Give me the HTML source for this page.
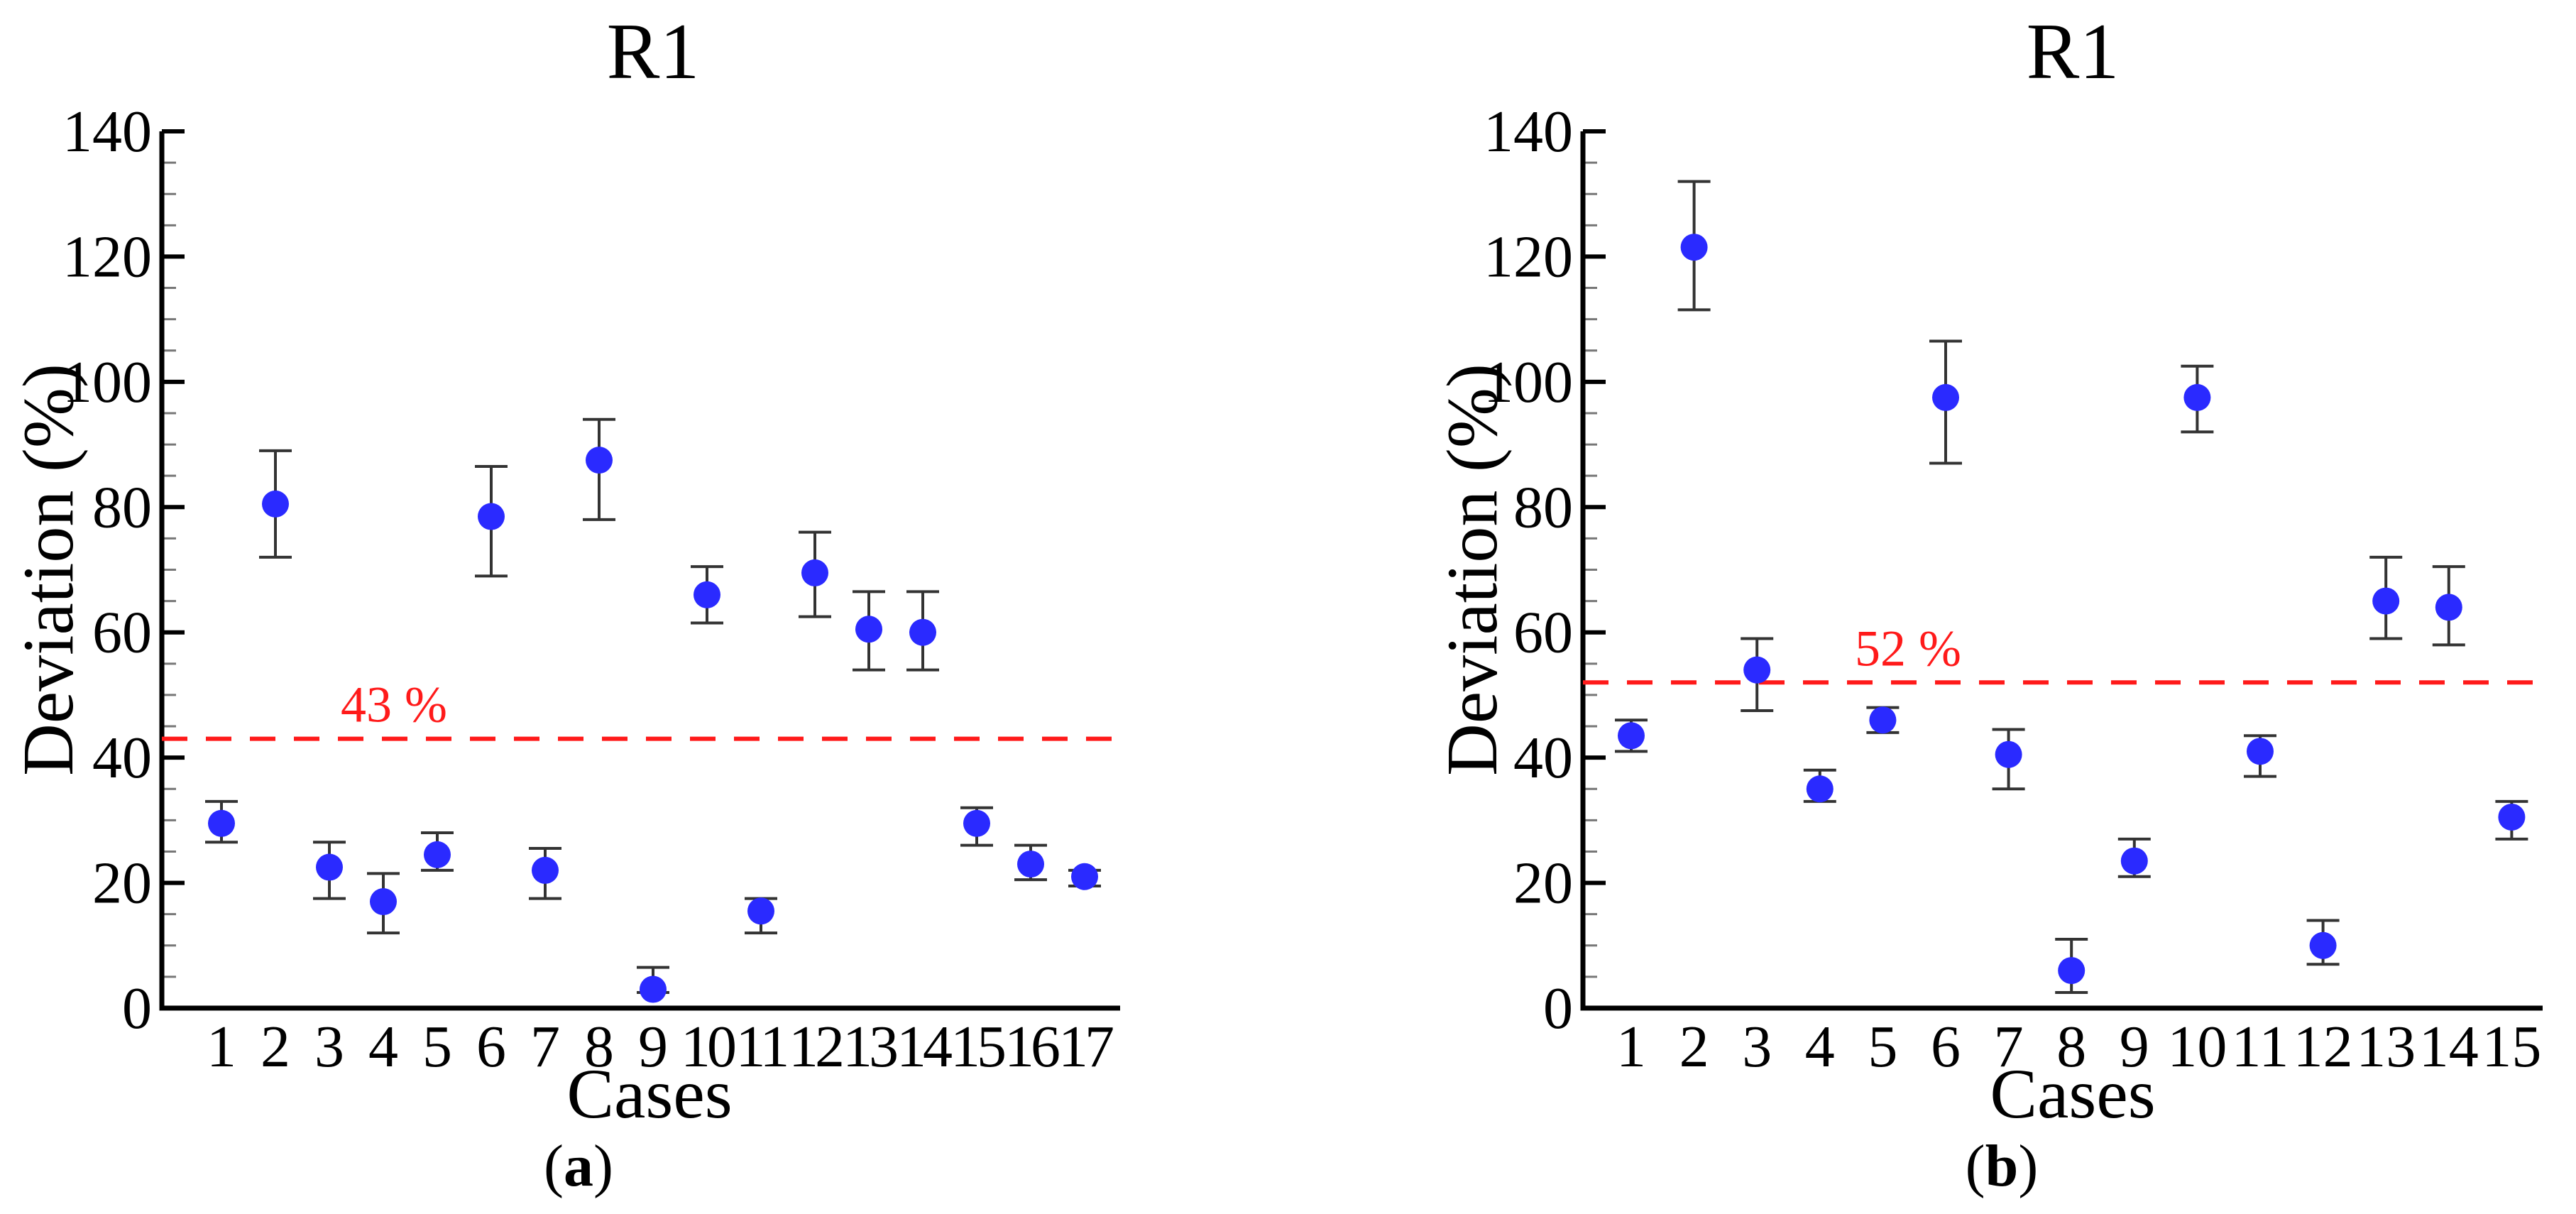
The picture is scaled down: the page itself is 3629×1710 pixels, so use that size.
<!DOCTYPE html>
<html><head><meta charset="utf-8"><style>
html,body{margin:0;padding:0;background:#fff;}
svg{display:block;font-family:"Liberation Serif","Times New Roman",serif;}
text{font-family:"Liberation Serif","Times New Roman",serif;}
</style></head><body>
<svg id="chart" width="3629" height="1710" viewBox="0 0 3629 1710" xmlns="http://www.w3.org/2000/svg"></svg>
<script>
const yTicks = [0, 20, 40, 60, 80, 100, 120, 140];
const casesA = [1,2,3,4,5,6,7,8,9,10,11,12,13,14,15,16,17];
const valuesA = [29.5,80.5,22.5,17,24.5,78.5,22,87.5,3,66,15.5,69.5,60.5,60,29.5,23,21];
const lowA = [26.5,72,17.5,12,22,69,17.5,78,2.5,61.5,12,62.5,54,54,26,20.5,19.5];
const highA = [33,89,26.5,21.5,28,86.5,25.5,94,6.5,70.5,17.5,76,66.5,66.5,32,26,22];
const meanA = [43];
const casesB = [1,2,3,4,5,6,7,8,9,10,11,12,13,14,15];
const valuesB = [43.5,121.5,54,35,46,97.5,40.5,6,23.5,97.5,41,10,65,64,30.5];
const lowB = [41,111.5,47.5,33,44,87,35,2.5,21,92,37,7,59,58,27];
const highB = [46,132,59,38,48,106.5,44.5,11,27,102.5,43.5,14,72,70.5,33];
const meanB = [52];

const NS = "http://www.w3.org/2000/svg";
const svg = document.getElementById('chart');
function mk(tag, attrs, parent, text){
  const e = document.createElementNS(NS, tag);
  for (const k in attrs) e.setAttribute(k, attrs[k]);
  if (tag === 'text') e.setAttribute('font-family', 'Liberation Serif, Times New Roman, serif');
  if (text !== undefined) e.textContent = text;
  (parent || svg).appendChild(e);
  return e;
}
const Y0 = 1420, Y140 = 185;
function yScale(v){ return Y0 - (v/140)*(Y0-Y140); }

function panel(cfg){
  const g = mk('g', {});
  
  
  const xScale = c => cfg.x1 + (c-1)*cfg.dx;
  const t = mk('text', {x: cfg.titleX, y: 110, 'font-size': 112, 'text-anchor': 'middle'}, g, 'R1');
  
  
  for (let v = 5; v < 140; v += 5) {
    if (v % 20 === 0) continue;
    const m = mk('line', {x1: cfg.ax, x2: cfg.ax+20, y1: yScale(v), y2: yScale(v), stroke: '#777', 'stroke-width': 3}, g);
    
    
  }
  yTicks.forEach(v => {
    const tk = mk('line', {x1: cfg.ax, x2: cfg.ax+32, y1: yScale(v), y2: yScale(v), stroke: '#000', 'stroke-width': 6}, g);
    
    
    const lb = mk('text', {x: cfg.ax-14, y: yScale(v)+28, 'font-size': 84, 'text-anchor': 'end'}, g, String(v));
    
    
  });
  const axes = mk('path', {d: `M${cfg.ax},${Y140} L${cfg.ax},${Y0} L${cfg.axEnd},${Y0}`, fill: 'none', stroke: '#000', 'stroke-width': 7}, g);
  
  
  cfg.cases.forEach(c => {
    const lb = mk('text', {x: xScale(c), y: 1502, 'font-size': 84, 'text-anchor': 'middle', 'letter-spacing': (c>=10 && cfg.cases.length>15) ? -5 : 0}, g, String(c));
    
    
  });
  const yl = mk('text', {x: 0, y: 0, 'font-size': 102, 'text-anchor': 'middle', transform: `translate(${cfg.ylX},${yScale(70)}) rotate(-90)`}, g, 'Deviation (%)');
  
  
  const xl = mk('text', {x: cfg.casesX, y: 1574, 'font-size': 100, 'text-anchor': 'middle'}, g, 'Cases');
  
  
  const sub = mk('text', {x: cfg.subX, y: 1670, 'font-size': 84, 'text-anchor': 'middle'}, g);
  
  
  mk('tspan', {}, sub, '(');
  mk('tspan', {'font-weight': 'bold'}, sub, cfg.sub);
  mk('tspan', {}, sub, ')');
  const ml = mk('line', {x1: cfg.ax, x2: cfg.axEnd, y1: yScale(cfg.mean[0]), y2: yScale(cfg.mean[0]), stroke: '#ff1a1a', 'stroke-width': 6, 'stroke-dasharray': '36,26'}, g);
  
  
  const mt = mk('text', {x: cfg.meanLabelX, y: yScale(cfg.mean[0]) - 24, 'font-size': 72, fill: '#ff1a1a', 'text-anchor': 'middle'}, g, cfg.mean[0] + ' %');
  
  
  cfg.cases.forEach((c, i) => {
    const x = xScale(c);
    const eb = mk('path', {d: `M${x},${yScale(cfg.high[i])} L${x},${yScale(cfg.low[i])} M${x-23},${yScale(cfg.high[i])} L${x+23},${yScale(cfg.high[i])} M${x-23},${yScale(cfg.low[i])} L${x+23},${yScale(cfg.low[i])}`, stroke: '#333', 'stroke-width': 4, fill: 'none'}, g);
    
    
    const pt = mk('circle', {cx: x, cy: yScale(cfg.values[i]), r: 19, fill: '#2a2aff'}, g);
    
    
  });
}
panel({name: 'panel-a', cases: casesA, values: valuesA, low: lowA, high: highA, mean: meanA,
  ax: 228, axEnd: 1578, x1: 312, dx: 76.0, titleX: 920, ylX: 102, casesX: 915, subX: 815, sub: 'a', meanLabelX: 555});
panel({name: 'panel-b', cases: casesB, values: valuesB, low: lowB, high: highB, mean: meanB,
  ax: 2230, axEnd: 3582, x1: 2298, dx: 88.6, titleX: 2920, ylX: 2108, casesX: 2920, subX: 2820, sub: 'b', meanLabelX: 2688});
</script>
</body></html>
